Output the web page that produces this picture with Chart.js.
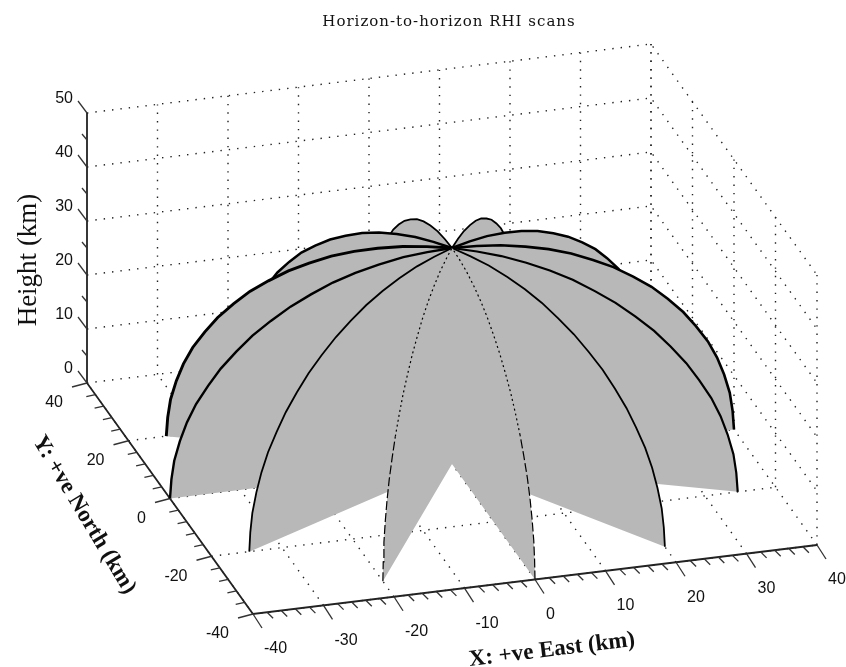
<!DOCTYPE html>
<html>
<head>
<meta charset="utf-8">
<title>Horizon-to-horizon RHI scans</title>
<script src="https://cdn.jsdelivr.net/npm/chart.js@4/dist/chart.umd.min.js"></script>
<style>
  body { margin: 0; background: #fff; }
  canvas { display: block; }
</style>
</head>
<body>
<canvas id="chart" width="846" height="667"></canvas>
<script>
// scan azimuths, degrees clockwise from north
const scanAzimuths = [0, 30, 60, 90, 120, 150, 180, 210, 240, 270, 300, 330];
// ground range and height of the beam along a scan (km)
const beamRange = [40, 39.8, 39.4, 38.6, 37.6, 36.3, 34.6, 32.8, 30.6, 28.3, 25.7, 22.9, 20, 16.9, 13.7, 10.4, 6.9, 3.5, 0];
const beamHeight = [0, 3.5, 6.9, 10.4, 13.7, 16.9, 20, 22.9, 25.7, 28.3, 30.6, 32.8, 34.6, 36.3, 37.6, 38.6, 39.4, 39.8, 40];

const xTicks = [-40, -30, -20, -10, 0, 10, 20, 30, 40];
const yTicks = [-40, -20, 0, 20, 40];
const zTicks = [0, 10, 20, 30, 40, 50];
const xMinor = [-38, -36, -34, -32, -28, -26, -24, -22, -18, -16, -14, -12, -8, -6, -4, -2, 2, 4, 6, 8, 12, 14, 16, 18, 22, 24, 26, 28, 32, 34, 36, 38];
const yMinor = [-36, -32, -28, -24, -16, -12, -8, -4, 4, 8, 12, 16, 24, 28, 32, 36];
const zMinor = [5, 15, 25, 35, 45];

// view of the box: km -> picture plane
function view(x, y, z) {
  return {
    x: 452 + 7.05 * x - 2.075 * y,
    y: 464 - 0.8625 * x - 2.8875 * y - 5.4 * z
  };
}

function line(points, opts) {
  return Object.assign({
    data: points, showLine: true, pointRadius: 0, fill: false,
    borderColor: '#333', borderWidth: 1
  }, opts);
}

const dots = { borderDash: [1.4, 7], borderColor: '#222', borderWidth: 1.4 };
const all = [];

// dotted grid on floor and the two far walls
yTicks.forEach(y => {
  all.push(line([view(-40, y, 0), view(40, y, 0)], dots));
  all.push(line([view(40, y, 0), view(40, y, 50)], dots));
});
xTicks.forEach(x => {
  all.push(line([view(x, -40, 0), view(x, 40, 0)], dots));
  if (x > -40) all.push(line([view(x, 40, 0), view(x, 40, 50)], dots));
});
zTicks.forEach(z => {
  if (z === 0) return;
  all.push(line([view(-40, 40, z), view(40, 40, z), view(40, -40, z)], dots));
});

// axes with ticks
const axis = { borderColor: '#222', borderWidth: 1.8 };
all.push(line([view(-40, 40, 50), view(-40, 40, 0), view(-40, -40, 0), view(40, -40, 0)], axis));
const tick = { borderColor: '#333', borderWidth: 1.3 };
function addTick(p, dx, dy) {
  all.push(line([p, { x: p.x + dx, y: p.y + dy }], tick));
}
xTicks.forEach(x => addTick(view(x, -40, 0), 9, 14));
xMinor.forEach(x => addTick(view(x, -40, 0), 6, 6));
yTicks.forEach(y => addTick(view(-40, y, 0), -15, 4));
yMinor.forEach(y => addTick(view(-40, y, 0), -9, 2));
zTicks.forEach(z => addTick(view(-40, 40, z), -9, -12));
zMinor.forEach(z => addTick(view(-40, 40, z), -5, -6));

// one gray sector per azimuth, furthest first
const arcWidth = { 0: 1.8, 30: 1.8, 60: 2.5, 90: 2.6, 120: 2.2, 150: 1.8, 180: 1.2, 210: 1.2, 240: 1.8, 270: 2.4, 300: 2.9, 330: 2.5 };
function scanPoints(az) {
  const s = Math.sin(az * Math.PI / 180), c = Math.cos(az * Math.PI / 180);
  return beamRange.map((r, i) => view(r * s, r * c, beamHeight[i]));
}
const sorted = scanAzimuths.slice().sort((a, b) => scanPoints(a)[0].y - scanPoints(b)[0].y);
sorted.forEach(az => {
  const pts = scanPoints(az);
  all.push(line(pts.concat([view(0, 0, 0), pts[0]]), {
    fill: 'shape', backgroundColor: '#b8b8b8', borderWidth: 0, borderColor: 'rgba(0,0,0,0)'
  }));
  const opts = { borderColor: '#000', borderWidth: arcWidth[az] };
  if (az === 180 || az === 210) {
    // these two come out broken in the original, long dashes low, dots high
    opts.segment = { borderDash: c => c.p0DataIndex < 7 ? [9, 3] : [2, 3] };
  }
  all.push(line(pts, opts));
});

// chart draws dataset 0 on top, so higher order = further back
all.forEach((d, i) => { d.order = all.length - i; });

function drawText(ctx, text, x, y, font, align, angle, spacing) {
  ctx.save();
  ctx.translate(x, y);
  ctx.rotate((angle || 0) * Math.PI / 180);
  ctx.font = font;
  ctx.letterSpacing = spacing || '0px';
  ctx.textAlign = align;
  ctx.textBaseline = 'middle';
  ctx.fillStyle = '#111';
  ctx.fillText(text, 0, 0);
  ctx.restore();
}

const labels3d = {
  id: 'labels3d',
  afterDraw(chart) {
    const ctx = chart.ctx;
    const tickFont = '16px "Liberation Sans"';
    xTicks.forEach(v => {
      const p = view(v, -40, 0);
      drawText(ctx, String(v), chart.scales.x.getPixelForValue(p.x) + 11, chart.scales.y.getPixelForValue(p.y) + 35, tickFont, 'left');
    });
    yTicks.forEach(v => {
      const p = view(-40, v, 0);
      drawText(ctx, String(v), chart.scales.x.getPixelForValue(p.x) - 24, chart.scales.y.getPixelForValue(p.y) + 20, tickFont, 'right');
    });
    zTicks.forEach(v => {
      const p = view(-40, 40, v);
      drawText(ctx, String(v), chart.scales.x.getPixelForValue(p.x) - 14, chart.scales.y.getPixelForValue(p.y) - 14, tickFont, 'right');
    });
    drawText(ctx, 'Horizon-to-horizon RHI scans', 449, 22, '15px "DejaVu Serif"', 'center', 0, '1px');
    drawText(ctx, 'Height (km)', 29, 260, '27px "Liberation Serif"', 'center', -90);
    drawText(ctx, 'X: +ve East (km)', 552, 650, 'bold 23px "Liberation Serif"', 'center', -7);
    drawText(ctx, 'Y: +ve North (km)', 84, 515, 'bold 23px "Liberation Serif"', 'center', 59);
  }
};

new Chart(document.getElementById('chart'), {
  type: 'scatter',
  data: { datasets: all },
  options: {
    responsive: false,
    animation: false,
    layout: { padding: 0 },
    plugins: { legend: { display: false }, tooltip: { enabled: false } },
    scales: {
      x: { type: 'linear', min: 0, max: 846, display: false },
      y: { type: 'linear', min: 0, max: 667, reverse: true, display: false }
    }
  },
  plugins: [labels3d]
});
</script>
</body>
</html>
